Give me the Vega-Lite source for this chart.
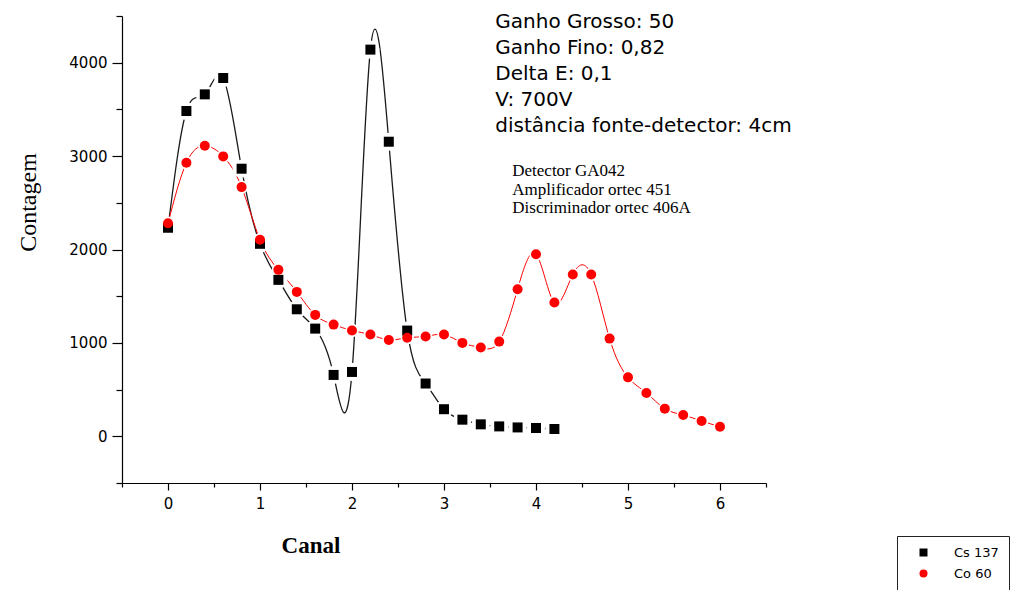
{
  "$schema": "https://vega.github.io/schema/vega-lite/v6.json",
  "width": 644,
  "height": 467,
  "autosize": "none",
  "padding": {"left": 122, "top": 16, "right": 249, "bottom": 107},
  "background": "white",
  "config": {"view": {"stroke": null}, "font": "Liberation Sans"},
  "datasets": {
    "counts": [
      {"canal": 0.0, "contagem": 2233, "fonte": "Cs 137"},
      {"canal": 0.2, "contagem": 3483, "fonte": "Cs 137"},
      {"canal": 0.4, "contagem": 3661, "fonte": "Cs 137"},
      {"canal": 0.6, "contagem": 3836, "fonte": "Cs 137"},
      {"canal": 0.8, "contagem": 2865, "fonte": "Cs 137"},
      {"canal": 1.0, "contagem": 2061, "fonte": "Cs 137"},
      {"canal": 1.2, "contagem": 1675, "fonte": "Cs 137"},
      {"canal": 1.4, "contagem": 1360, "fonte": "Cs 137"},
      {"canal": 1.6, "contagem": 1153, "fonte": "Cs 137"},
      {"canal": 1.8, "contagem": 657, "fonte": "Cs 137"},
      {"canal": 2.0, "contagem": 689, "fonte": "Cs 137"},
      {"canal": 2.2, "contagem": 4140, "fonte": "Cs 137"},
      {"canal": 2.4, "contagem": 3154, "fonte": "Cs 137"},
      {"canal": 2.6, "contagem": 1132, "fonte": "Cs 137"},
      {"canal": 2.8, "contagem": 565, "fonte": "Cs 137"},
      {"canal": 3.0, "contagem": 290, "fonte": "Cs 137"},
      {"canal": 3.2, "contagem": 178, "fonte": "Cs 137"},
      {"canal": 3.4, "contagem": 128, "fonte": "Cs 137"},
      {"canal": 3.6, "contagem": 106, "fonte": "Cs 137"},
      {"canal": 3.8, "contagem": 95, "fonte": "Cs 137"},
      {"canal": 4.0, "contagem": 89, "fonte": "Cs 137"},
      {"canal": 4.2, "contagem": 78, "fonte": "Cs 137"},
      {"canal": 0.0, "contagem": 2282, "fonte": "Co 60"},
      {"canal": 0.2, "contagem": 2929, "fonte": "Co 60"},
      {"canal": 0.4, "contagem": 3111, "fonte": "Co 60"},
      {"canal": 0.6, "contagem": 2997, "fonte": "Co 60"},
      {"canal": 0.8, "contagem": 2668, "fonte": "Co 60"},
      {"canal": 1.0, "contagem": 2104, "fonte": "Co 60"},
      {"canal": 1.2, "contagem": 1782, "fonte": "Co 60"},
      {"canal": 1.4, "contagem": 1546, "fonte": "Co 60"},
      {"canal": 1.6, "contagem": 1300, "fonte": "Co 60"},
      {"canal": 1.8, "contagem": 1196, "fonte": "Co 60"},
      {"canal": 2.0, "contagem": 1132, "fonte": "Co 60"},
      {"canal": 2.2, "contagem": 1089, "fonte": "Co 60"},
      {"canal": 2.4, "contagem": 1032, "fonte": "Co 60"},
      {"canal": 2.6, "contagem": 1056, "fonte": "Co 60"},
      {"canal": 2.8, "contagem": 1069, "fonte": "Co 60"},
      {"canal": 3.0, "contagem": 1089, "fonte": "Co 60"},
      {"canal": 3.2, "contagem": 1000, "fonte": "Co 60"},
      {"canal": 3.4, "contagem": 950, "fonte": "Co 60"},
      {"canal": 3.6, "contagem": 1014, "fonte": "Co 60"},
      {"canal": 3.8, "contagem": 1575, "fonte": "Co 60"},
      {"canal": 4.0, "contagem": 1950, "fonte": "Co 60"},
      {"canal": 4.2, "contagem": 1432, "fonte": "Co 60"},
      {"canal": 4.4, "contagem": 1732, "fonte": "Co 60"},
      {"canal": 4.6, "contagem": 1732, "fonte": "Co 60"},
      {"canal": 4.8, "contagem": 1046, "fonte": "Co 60"},
      {"canal": 5.0, "contagem": 631, "fonte": "Co 60"},
      {"canal": 5.2, "contagem": 464, "fonte": "Co 60"},
      {"canal": 5.4, "contagem": 296, "fonte": "Co 60"},
      {"canal": 5.6, "contagem": 228, "fonte": "Co 60"},
      {"canal": 5.8, "contagem": 164, "fonte": "Co 60"},
      {"canal": 6.0, "contagem": 103, "fonte": "Co 60"}
    ],
    "notas": [
      {"nota": "Ganho Grosso: 50\nGanho Fino: 0,82\nDelta E: 0,1\nV: 700V\ndistância fonte-detector: 4cm"}
    ],
    "equipamento": [
      {"nota": "Detector  GA042\nAmplificador   ortec 451\nDiscriminador ortec 406A"}
    ]
  },
  "resolve": {"scale": {"x": "shared", "y": "shared"}},
  "layer": [
    {
      "data": {"name": "counts"},
      "transform": [{"filter": "datum.fonte === 'Cs 137'"}],
      "mark": {"type": "line", "interpolate": "natural", "color": "#1a1a1a", "strokeWidth": 1.3},
      "encoding": {
        "x": {
          "field": "canal",
          "type": "quantitative",
          "scale": {"domain": [-0.5, 6.5], "nice": false, "zero": false},
          "axis": {
            "title": "Canal",
            "titleFont": "Liberation Serif",
            "titleFontWeight": "bold",
            "titleFontSize": 23,
            "titleColor": "black",
            "titleX": 188.5,
            "titleY": 69,
            "titleAlign": "center",
            "titleBaseline": "alphabetic",
            "values": [-0.5, 0, 0.5, 1, 1.5, 2, 2.5, 3, 3.5, 4, 4.5, 5, 5.5, 6, 6.5],
            "labelExpr": "datum.value % 1 === 0 ? format(datum.value, 'd') : ''",
            "labelFont": "DejaVu Sans",
            "labelFontSize": 15,
            "labelColor": "black",
            "labelPadding": 6,
            "labelFlush": false,
            "labelOverlap": false,
            "domainColor": "black",
            "domainWidth": 1.2,
            "tickColor": "black",
            "tickWidth": 1.2,
            "tickSize": {"condition": {"test": "datum.value % 1 === 0", "value": 7}, "value": 4},
            "grid": false
          }
        },
        "y": {
          "field": "contagem",
          "type": "quantitative",
          "scale": {"domain": [-500, 4500], "nice": false, "zero": false},
          "axis": {
            "title": "Contagem",
            "titleFont": "Liberation Serif",
            "titleFontWeight": "normal",
            "titleFontSize": 24,
            "titleColor": "black",
            "titleX": -94,
            "titleY": 186,
            "titleAngle": -90,
            "titleAlign": "center",
            "titleBaseline": "middle",
            "values": [-500, 0, 500, 1000, 1500, 2000, 2500, 3000, 3500, 4000, 4500],
            "labelExpr": "datum.value % 1000 === 0 ? format(datum.value, 'd') : ''",
            "labelFont": "DejaVu Sans",
            "labelFontSize": 15,
            "labelColor": "black",
            "labelPadding": 5,
            "labelFlush": false,
            "labelOverlap": false,
            "domainColor": "black",
            "domainWidth": 1.2,
            "tickColor": "black",
            "tickWidth": 1.2,
            "tickSize": {"condition": {"test": "datum.value % 1000 === 0", "value": 10}, "value": 6},
            "grid": false
          }
        }
      }
    },
    {
      "data": {"name": "counts"},
      "transform": [{"filter": "datum.fonte === 'Co 60'"}],
      "mark": {"type": "line", "interpolate": "natural", "color": "red", "strokeWidth": 1},
      "encoding": {
        "x": {"field": "canal", "type": "quantitative"},
        "y": {"field": "contagem", "type": "quantitative"}
      }
    },
    {
      "data": {"name": "counts"},
      "transform": [{"filter": "datum.fonte === 'Cs 137'"}],
      "mark": {"type": "point", "shape": "circle", "filled": true, "color": "white", "opacity": 1, "size": 330},
      "encoding": {
        "x": {"field": "canal", "type": "quantitative"},
        "y": {"field": "contagem", "type": "quantitative"}
      }
    },
    {
      "data": {"name": "counts"},
      "transform": [{"filter": "datum.fonte === 'Co 60'"}],
      "mark": {"type": "point", "shape": "circle", "filled": true, "color": "white", "opacity": 1, "size": 180},
      "encoding": {
        "x": {"field": "canal", "type": "quantitative"},
        "y": {"field": "contagem", "type": "quantitative"}
      }
    },
    {
      "data": {"name": "counts"},
      "mark": {"type": "point", "filled": true, "opacity": 1, "size": 100},
      "encoding": {
        "x": {"field": "canal", "type": "quantitative"},
        "y": {"field": "contagem", "type": "quantitative"},
        "color": {
          "field": "fonte",
          "type": "nominal",
          "scale": {"domain": ["Cs 137", "Co 60"], "range": ["black", "red"]},
          "legend": {
            "orient": "none",
            "legendX": 775,
            "legendY": 520,
            "title": null,
            "strokeColor": "#222",
            "fillColor": "white",
            "padding": 10,
            "symbolOffset": 10,
            "labelOffset": 24,
            "labelFont": "DejaVu Sans",
            "labelFontSize": 13,
            "labelColor": "black",
            "symbolSize": 64,
            "symbolStrokeWidth": 0,
            "rowPadding": 7
          }
        },
        "shape": {
          "field": "fonte",
          "type": "nominal",
          "scale": {"domain": ["Cs 137", "Co 60"], "range": ["square", "circle"]},
          "legend": {
            "orient": "none",
            "legendX": 775,
            "legendY": 520,
            "title": null,
            "strokeColor": "#222",
            "fillColor": "white",
            "padding": 10,
            "symbolOffset": 10,
            "labelOffset": 24,
            "labelFont": "DejaVu Sans",
            "labelFontSize": 13,
            "labelColor": "black",
            "symbolSize": 64,
            "symbolStrokeWidth": 0,
            "rowPadding": 7
          }
        },
        "order": {"field": "fonte", "sort": "descending"}
      }
    },
    {
      "data": {"name": "notas"},
      "mark": {"type": "text", "font": "DejaVu Sans", "fontSize": 20, "align": "left", "baseline": "alphabetic", "lineBreak": "\n", "lineHeight": 26.2, "color": "black"},
      "encoding": {
        "x": {"datum": 3.558},
        "y": {"datum": 4376},
        "text": {"field": "nota", "type": "nominal"}
      }
    },
    {
      "data": {"name": "equipamento"},
      "mark": {"type": "text", "font": "Liberation Serif", "fontSize": 17, "align": "left", "baseline": "alphabetic", "lineBreak": "\n", "lineHeight": 18.3, "color": "black"},
      "encoding": {
        "x": {"datum": 3.742},
        "y": {"datum": 2782},
        "text": {"field": "nota", "type": "nominal"}
      }
    }
  ]
}
